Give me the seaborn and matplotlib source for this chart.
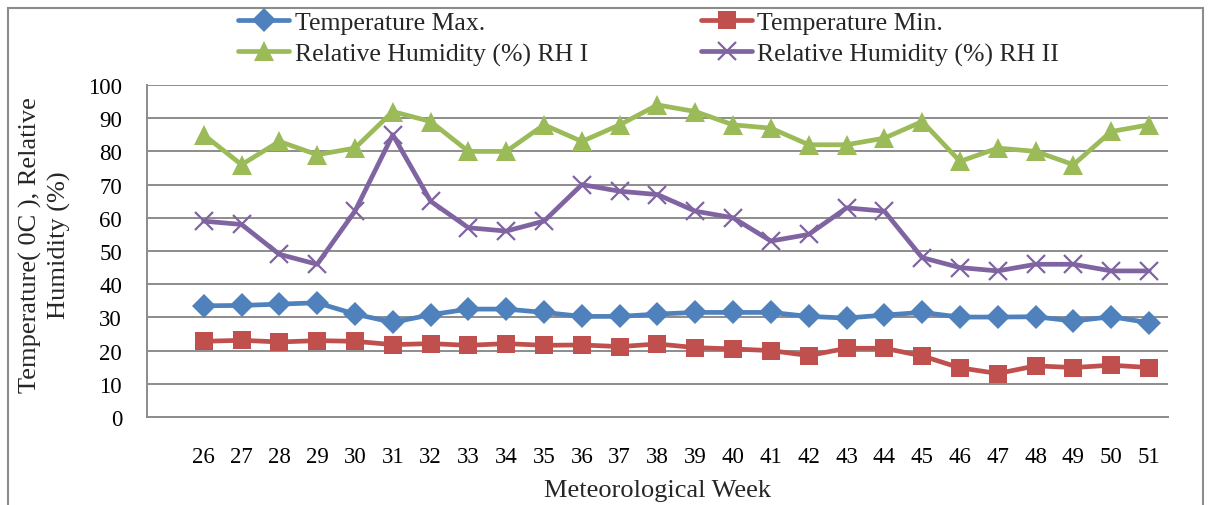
import numpy as np
import pandas as pd
import matplotlib
matplotlib.use("Agg")
import matplotlib.pyplot as plt
from matplotlib.patches import Rectangle
import seaborn as sns

# Meteorological weeks and weekly observations
weeks = list(range(26, 52))
temp_max = [33.5, 33.6, 34.0, 34.4, 31.0, 28.5, 30.8, 32.5, 32.5, 31.5, 30.3, 30.3, 31.0,
            31.5, 31.5, 31.5, 30.3, 29.8, 30.7, 31.5, 30.1, 30.1, 30.2, 28.9, 30.2, 28.4]
temp_min = [22.8, 23.1, 22.6, 23.0, 22.8, 21.8, 22.1, 21.6, 22.1, 21.6, 21.7, 21.2, 22.0,
            20.9, 20.5, 20.0, 18.5, 20.7, 20.7, 18.4, 14.8, 13.1, 15.4, 14.9, 15.6, 14.9]
rh_1 = [85, 76, 83, 79, 81, 92, 89, 80, 80, 88, 83, 88, 94,
        92, 88, 87, 82, 82, 84, 89, 77, 81, 80, 76, 86, 88]
rh_2 = [59, 58, 49, 46, 62, 85, 65, 57, 56, 59, 70, 68, 67,
        62, 60, 53, 55, 63, 62, 48, 45, 44, 46, 46, 44, 44]
y_ticks = list(range(0, 101, 10))

series = [
    ("Temperature Max.", temp_max, "#4F81BD", "D", 12),
    ("Temperature Min.", temp_min, "#C0504D", "s", 13),
    ("Relative Humidity (%) RH I", rh_1, "#9BBB59", "^", 14),
    ("Relative Humidity (%) RH II", rh_2, "#8064A2", "x", 13),
]

sns.set_theme(style="white")
plt.rcParams["font.family"] = ["Liberation Serif", "DejaVu Serif"]

W, H = 1211, 506
fig = plt.figure(figsize=(W / 100, H / 100), dpi=100)
ax = fig.add_axes([147 / W, 1 - 418 / H, (1168 - 147) / W, (418 - 86) / H])

for name, vals, color, marker, ms in series:
    df = pd.DataFrame({"week": weeks, "value": vals})
    extra = {"mew": 1.6} if marker == "x" else {"mew": 0}
    sns.lineplot(data=df, x="week", y="value", ax=ax, color=color, lw=3.4,
                 marker=marker, ms=ms, mec=color, mfc=color, label=name, **extra)

ax.set_xlim(weeks[0] - 1.5, weeks[-1] + 0.5)
ax.set_ylim(0, 100)
ax.set_yticks(y_ticks)
ax.set_xticks(weeks)
ax.set_xticklabels([str(w) for w in weeks])
ax.grid(axis="y", color="#8c8c8c", lw=1.4)
ax.grid(axis="x", visible=False)
ax.set_axisbelow(True)
for side in ("top", "right"):
    ax.spines[side].set_visible(False)
for side in ("left", "bottom"):
    ax.spines[side].set_color("#8c8c8c")
    ax.spines[side].set_linewidth(1.4)
ax.tick_params(axis="x", length=0, pad=21, labelsize=16.5, colors="black")
ax.tick_params(axis="y", length=0, pad=18, labelsize=16.5, colors="black")
ax.set_xlabel("")
ax.set_ylabel("")

fig.text(657 / W, 1 - 491 / H, "Meteorological Week", ha="center", va="center", fontsize=19)
fig.text(45 / W, 1 - 245 / H, "Temperature( 0C ), Relative\nHumidity (%)", rotation=90,
         ha="center", va="center", multialignment="center", fontsize=19, linespacing=1.3)

# Legend laid out row by row: Max / Min, then RH I / RH II
ax.get_legend().remove()
handles, labels = ax.get_legend_handles_labels()
order = [0, 2, 1, 3]
fig.legend([handles[i] for i in order], [labels[i] for i in order], ncol=2,
           loc="upper left", bbox_to_anchor=(238 / W, 1 - 12 / H),
           frameon=False, fontsize=18.5, handlelength=2.0, handletextpad=0.2,
           columnspacing=4.4, labelspacing=0.32, borderpad=0, borderaxespad=0)

fig.add_artist(Rectangle((8 / W, -0.1), (1203 - 8) / W, 1.1 - 9 / H, transform=fig.transFigure,
                         fill=False, edgecolor="#8c8c8c", lw=1.5))

fig.savefig("out.png", dpi=100, facecolor="white")
